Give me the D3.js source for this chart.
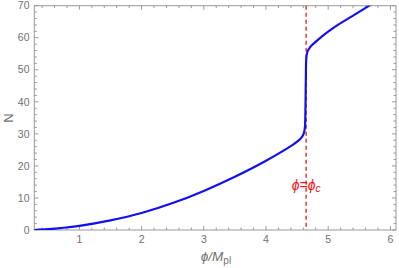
<!DOCTYPE html>
<html><head><meta charset="utf-8">
<script src="https://cdn.jsdelivr.net/npm/d3@7"></script>
<style>body{margin:0;background:#fff}svg{display:block}</style>
</head><body>
<svg id="c" width="399" height="268"></svg>
<script>
const phi = [0.275,0.5,0.75,1.0,1.5,2.0,2.5,3.0,3.5,4.0,4.3,4.5,4.58,4.612,4.628,4.636,4.642,4.648,4.662,4.70,4.78,4.9,5.1,5.4,5.7];
const N   = [0,0.25,0.7,1.3,3.0,5.3,8.4,12.2,16.6,21.6,25.0,27.6,29.1,30.5,32.5,40,50,53.6,55.3,56.8,58.4,60.4,63.3,66.9,70.5];
const phiC = 4.645;
const xTicks = [1,2,3,4,5,6];
const yTicks = [0,10,20,30,40,50,60,70];
const xMinor = d3.range(0.4,6.05,0.2).map(v=>+v.toFixed(1)).filter(v=>!xTicks.includes(v));
const yMinor = d3.range(0,71,2).filter(v=>v%10!==0);

const L=34.3,R=396,T=5.7,B=230;
const svg=d3.select('#c');
const x=d3.scaleLinear().domain([0.275,6.09]).range([L,R]);
const y=d3.scaleLinear().domain([0,70]).range([B,T]);
const gray='#999', txt='#707070';

svg.append('defs').append('clipPath').attr('id','cp').append('rect')
  .attr('x',L).attr('y',T).attr('width',R-L).attr('height',B-T);

svg.append('rect').attr('x',L).attr('y',T).attr('width',R-L).attr('height',B-T)
  .attr('fill','none').attr('stroke',gray).attr('stroke-width',1);

const g=svg.append('g');
[[B,-1],[T,1]].forEach(([yy,dir])=>{
  xTicks.forEach(v=>g.append('line').attr('x1',x(v)).attr('x2',x(v)).attr('y1',yy).attr('y2',yy+dir*4).attr('stroke',gray));
  xMinor.forEach(v=>g.append('line').attr('x1',x(v)).attr('x2',x(v)).attr('y1',yy).attr('y2',yy+dir*2.5).attr('stroke',gray));
});
[[L,1],[R,-1]].forEach(([xx,dir])=>{
  yTicks.forEach(v=>g.append('line').attr('y1',y(v)).attr('y2',y(v)).attr('x1',xx).attr('x2',xx+dir*4).attr('stroke',gray));
  yMinor.forEach(v=>g.append('line').attr('y1',y(v)).attr('y2',y(v)).attr('x1',xx).attr('x2',xx+dir*2.5).attr('stroke',gray));
});
xTicks.forEach(v=>svg.append('text').attr('x',x(v)).attr('y',243).attr('text-anchor','middle')
  .attr('font-family','Liberation Sans, Arial, sans-serif').attr('font-size',10.5).attr('fill',txt).text(v));
yTicks.forEach(v=>svg.append('text').attr('x',29.5).attr('y',y(v)+3.7).attr('text-anchor','end')
  .attr('font-family','Liberation Sans, Arial, sans-serif').attr('font-size',10.5).attr('fill',txt).text(v));

svg.append('text').attr('transform','translate(13,118) rotate(-90)').attr('text-anchor','middle')
  .attr('font-family','Liberation Sans, Arial, sans-serif').attr('font-size',13).attr('fill',txt).text('N');
const xl=svg.append('text').attr('x',216).attr('y',261).attr('text-anchor','middle')
  .attr('font-family','Liberation Sans, Arial, sans-serif').attr('font-size',13.5).attr('fill',txt);
xl.append('tspan').attr('font-style','italic').text('ϕ/M');
xl.append('tspan').attr('font-size',10).attr('dy',3).text('pl');

svg.append('line').attr('x1',x(phiC)).attr('x2',x(phiC)).attr('y1',T).attr('y2',B)
  .attr('stroke','#e01818').attr('stroke-width',1.3).attr('stroke-dasharray','4,3');

const line=d3.line().x((d,i)=>x(phi[i])).y((d,i)=>y(N[i])).curve(d3.curveMonotoneX);
svg.append('path').attr('clip-path','url(#cp)').attr('d',line(phi)).attr('fill','none')
  .attr('stroke','#1010f0').attr('stroke-width',2.2);

const lb=svg.append('text').attr('x',x(phiC)).attr('y',190).attr('text-anchor','middle')
  .attr('font-family','Liberation Sans, Arial, sans-serif').attr('font-size',14).attr('fill','#ee1111');
lb.append('tspan').attr('font-style','italic').text('ϕ=ϕ');
lb.append('tspan').attr('font-style','italic').attr('font-size',10).attr('dy',2).text('c');
</script>
</body></html>
